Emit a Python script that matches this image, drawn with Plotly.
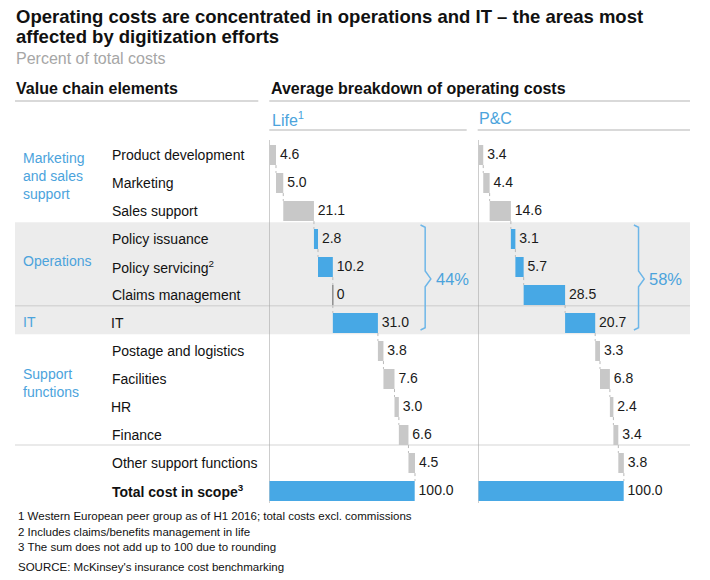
import plotly.graph_objects as go

# Daten
items = ["Product development", "Marketing", "Sales support", "Policy issuance",
         "Policy servicing<sup>2</sup>", "Claims management", "IT",
         "Postage and logistics", "Facilities", "HR", "Finance",
         "Other support functions", "<b>Total cost in scope<sup>3</sup></b>"]
groups = ["Marketing<br>and sales<br>support", "Operations", "IT", "Support<br>functions"]
group_rows = [[0, 1, 2], [3, 4, 5], [6], [7, 8, 9, 10]]
life = [4.6, 5.0, 21.1, 2.8, 10.2, 0, 31.0, 3.8, 7.6, 3.0, 6.6, 4.5, 100.0]
pc = [3.4, 4.4, 14.6, 3.1, 5.7, 28.5, 20.7, 3.3, 6.8, 2.4, 3.4, 3.8, 100.0]
panels = ["Life<sup>1</sup>", "P&C"]
shares = ["44%", "58%"]
footnotes = ["1 Western European peer group as of H1 2016; total costs excl. commissions",
             "2 Includes claims/benefits management in life",
             "3 The sum does not add up to 100 due to rounding"]
source = "SOURCE: McKinsey's insurance cost benchmarking"

W, H = 710, 580
FONT = "Liberation Sans, Arial, Helvetica, sans-serif"
BLUE = "#47a8e5"
TBLUE = "#4ba3dc"
GREY = "#c8c8c8"
PXU = 1.454  # Pixel pro Prozentpunkt


def px(x):
    return x / W


def py(y):
    return 1 - y / H


n = len(items)
rows = list(range(n))
highlight = set(group_rows[1] + group_rows[2] + [n - 1])

fig = go.Figure()
shapes = []
annotations = []

# Graues Band fuer Operations + IT
band_rows = group_rows[1] + group_rows[2]
shapes.append(dict(type="rect", xref="paper", yref="y", x0=px(15), x1=px(690),
                   y0=band_rows[0] - 0.6, y1=band_rows[-1] + 0.4,
                   fillcolor="#ececec", line_width=0, layer="below"))
shapes.append(dict(type="line", xref="paper", yref="y", x0=px(15), x1=px(690),
                   y0=group_rows[2][0] - 0.62, y1=group_rows[2][0] - 0.62,
                   line=dict(color="#d6d6d6", width=1.5), layer="below"))
shapes.append(dict(type="line", xref="paper", yref="y", x0=px(15), x1=px(690),
                   y0=group_rows[3][-1] + 0.36, y1=group_rows[3][-1] + 0.36,
                   line=dict(color="#e3e3e3", width=1.5), layer="below"))

bracket_x = [107.2, 110.2]
for k, vals in enumerate([life, pc]):
    xa = "x" if k == 0 else "x2"
    bases = []
    run = 0
    for v in vals[:-1]:
        bases.append(run)
        run += v
    bases.append(0)
    ends = [b + v for b, v in zip(bases, vals)]
    colors = [BLUE if i in highlight else GREY for i in rows]

    fig.add_trace(go.Bar(x=vals, y=rows, base=bases, orientation="h",
                         marker=dict(color=colors, line_width=0), width=0.72,
                         xaxis=xa, yaxis="y", hoverinfo="skip", showlegend=False))

    # Verbindungslinien
    cx, cy = [], []
    for i in range(n - 1):
        cx += [ends[i], ends[i], None]
        cy += [i + 0.36, i + 0.64, None]
    fig.add_trace(go.Scatter(x=cx, y=cy, mode="lines", xaxis=xa, yaxis="y",
                             line=dict(color="#b8b8b8", width=1, dash="dot"),
                             hoverinfo="skip", showlegend=False))
    # Nullwerte als duenne Linie
    zx, zy = [], []
    for i, v in enumerate(vals):
        if v == 0:
            zx += [ends[i], ends[i], None]
            zy += [i - 0.36, i + 0.36, None]
    if zx:
        fig.add_trace(go.Scatter(x=zx, y=zy, mode="lines", xaxis=xa, yaxis="y",
                                 line=dict(color="#777777", width=1.2),
                                 hoverinfo="skip", showlegend=False))

    labels = ["\u00a0" + ("0" if v == 0 else f"{v:.1f}") for v in vals]
    fig.add_trace(go.Scatter(x=ends, y=rows, mode="text", text=labels,
                             textposition="middle right",
                             textfont=dict(size=14, color="#1a1a1a", family=FONT),
                             xaxis=xa, yaxis="y", cliponaxis=False,
                             hoverinfo="skip", showlegend=False))

    # Achsenlinie
    shapes.append(dict(type="line", xref=xa, yref="paper", x0=0, x1=0,
                       y0=py(503), y1=py(140), line=dict(color="#a6a6a6", width=1),
                       layer="below"))

    # Klammer
    bx = bracket_x[k]
    top, bot = band_rows[0] - 0.5, band_rows[-1] + 0.25
    mid = (top + bot) / 2 + 0.05
    path = (f"M {bx - 3.2},{top} L {bx},{top + 0.08} L {bx},{mid - 0.28} L {bx + 3.9},{mid} "
            f"L {bx},{mid + 0.28} L {bx},{bot - 0.08} L {bx - 3.2},{bot}")
    shapes.append(dict(type="path", xref=xa, yref="y", path=path,
                       line=dict(color="#6db6e8", width=1.5)))
    annotations.append(dict(xref=xa, yref="y", x=bx + 5.8, y=mid, text=shares[k],
                            showarrow=False, xanchor="left", yanchor="middle",
                            font=dict(size=16.5, color=TBLUE, family=FONT)))

# Kopfzeilen
shapes += [
    dict(type="line", xref="paper", yref="paper", x0=px(15), x1=px(258.3),
         y0=py(101), y1=py(101), line=dict(color="#b3b3b3", width=1)),
    dict(type="line", xref="paper", yref="paper", x0=px(269.3), x1=px(690),
         y0=py(101), y1=py(101), line=dict(color="#b3b3b3", width=1)),
    dict(type="line", xref="paper", yref="paper", x0=px(269.3), x1=px(466.7),
         y0=py(130), y1=py(130), line=dict(color="#b3b3b3", width=1)),
    dict(type="line", xref="paper", yref="paper", x0=px(477.7), x1=px(690),
         y0=py(130), y1=py(130), line=dict(color="#b3b3b3", width=1)),
]


def txt(x, y, text, size, color="#111111", xref="paper", yref="paper", **kw):
    annotations.append(dict(xref=xref, yref=yref, x=x, y=y, text=text, showarrow=False,
                            xanchor="left", yanchor="middle", align="left",
                            font=dict(size=size, color=color, family=FONT), **kw))


txt(px(14), py(16.5), "<b>Operating costs are concentrated in operations and IT – the areas most</b>", 18.5)
txt(px(14), py(36.5), "<b>affected by digitization efforts</b>", 18.5)
txt(px(14), py(58.5), "Percent of total costs", 16, "#a6a6a6")
txt(px(14), py(88.5), "<b>Value chain elements</b>", 16)
txt(px(268.5), py(88.5), "<b>Average breakdown of operating costs</b>", 16)
txt(px(269.5), py(118.5), panels[0], 16, TBLUE)
txt(px(476.5), py(118.5), panels[1], 16, TBLUE)

for i, name in enumerate(items):
    txt(px(109.5), i, name, 14, yref="y")

group_y = [0.75, 3.8, 5.95, 8.15]
for g, gy in zip(groups, group_y):
    txt(px(20.5), gy, g, 14, TBLUE, yref="y")

for j, f in enumerate(footnotes):
    txt(px(15.5), py(516 + 15.5 * j), f, 11.5)
txt(px(15.5), py(567), source, 11.5)

fig.update_layout(
    width=W, height=H,
    margin=dict(l=0, r=0, t=0, b=0),
    paper_bgcolor="white", plot_bgcolor="rgba(0,0,0,0)",
    barmode="overlay",
    font=dict(family=FONT),
    xaxis=dict(domain=[px(269.3), px(470)], range=[0, (470 - 269.3) / PXU],
               visible=False, fixedrange=True),
    xaxis2=dict(domain=[px(478.3), px(690)], range=[0, (690 - 478.3) / PXU],
                visible=False, fixedrange=True, anchor="y"),
    yaxis=dict(domain=[py(505), py(141)], range=[n - 0.5, -0.5],
               visible=False, fixedrange=True, anchor="x"),
    shapes=shapes,
    annotations=annotations,
    showlegend=False,
)

fig.write_html("out.html", config={"displayModeBar": False},
               post_script="document.body.style.margin='0';document.body.style.overflow='hidden';")
